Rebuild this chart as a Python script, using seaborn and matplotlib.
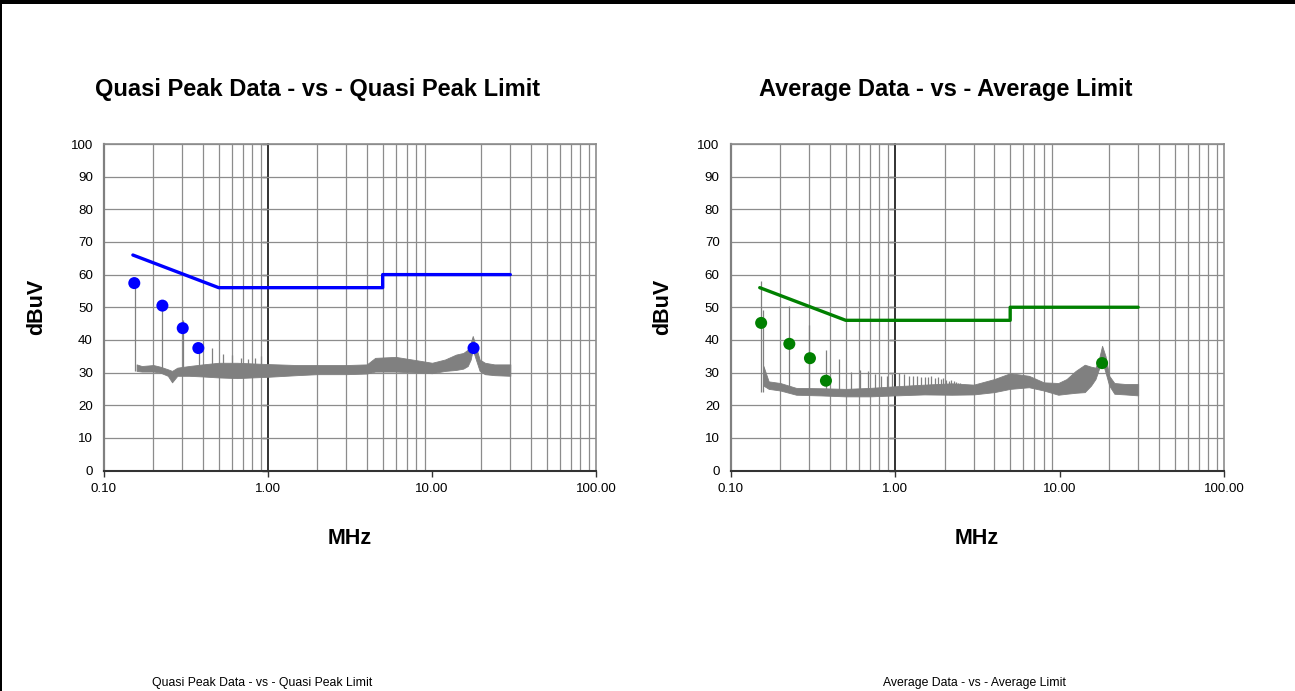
import matplotlib
matplotlib.use("Agg")
import matplotlib.pyplot as plt
from matplotlib.ticker import FixedLocator, FixedFormatter, NullFormatter
from matplotlib.patches import Rectangle
import seaborn as sns

sns.set_style("white")
plt.rcParams["font.family"] = ["Liberation Sans", "DejaVu Sans"]
plt.rcParams["text.color"] = "black"
plt.rcParams["xtick.labelcolor"] = "black"
plt.rcParams["ytick.labelcolor"] = "black"

# ---- limit lines (MHz, dBuV) ----
qp_limit_f = [0.15, 0.5, 5.0, 5.0, 30.0]
qp_limit_db = [66, 56, 56, 60, 60]
av_limit_f = [0.15, 0.5, 5.0, 5.0, 30.0]
av_limit_db = [56, 46, 46, 50, 50]

# ---- final measurement points ----
qp_pts_f = [0.153, 0.227, 0.302, 0.376, 17.9]
qp_pts_db = [57.4, 50.5, 43.6, 37.5, 37.5]
av_pts_f = [0.153, 0.227, 0.303, 0.379, 18.1]
av_pts_db = [45.2, 38.8, 34.4, 27.5, 32.9]

# ---- pre-scan sweep, quasi-peak detector: noise band + spurs ----
qp_band_f = [0.158, 0.17, 0.20, 0.22, 0.245, 0.26, 0.28, 0.33, 0.40, 0.50, 0.65,
             0.80, 1.0, 1.5, 2.0, 3.0, 4.0, 4.5, 6.0, 8.0, 10.0, 12.0, 14.0,
             15.5, 16.5, 17.2, 17.7, 18.5, 19.5, 21.0, 24.0, 30.0]
qp_band_lo = [30.5, 30.3, 30.3, 30.0, 29.0, 27.0, 29.0, 29.0, 28.8, 28.5, 28.3,
              28.5, 28.7, 29.2, 29.5, 29.5, 29.7, 30.3, 30.3, 30.0, 29.8, 30.5,
              30.8, 31.2, 32.0, 34.0, 37.0, 34.0, 30.5, 29.5, 29.2, 29.0]
qp_band_hi = [32.5, 32.0, 32.3, 31.8, 31.0, 30.5, 31.5, 32.0, 32.5, 33.0, 33.0,
              32.8, 32.6, 32.3, 32.3, 32.3, 32.5, 34.5, 34.8, 33.8, 33.0, 34.0,
              35.5, 36.0, 37.0, 39.0, 41.2, 38.0, 34.0, 33.0, 32.5, 32.5]
qp_spur_f = [0.155, 0.227, 0.302, 0.378, 0.455, 0.53, 0.605, 0.68, 0.76, 0.83, 0.91]
qp_spur_db = [57.2, 50.4, 46.2, 38.5, 37.5, 35.7, 35.5, 34.5, 34.0, 34.5, 35.0]
qp_spur_base = 30.5

# ---- pre-scan sweep, average detector: noise band + spurs ----
av_band_f = [0.158, 0.17, 0.20, 0.25, 0.35, 0.50, 0.70, 1.0, 1.5, 2.2, 3.0, 4.0,
             5.0, 6.5, 8.0, 9.8, 11.0, 12.5, 14.2, 15.5, 16.5, 17.3, 18.1, 19.0,
             20.0, 21.5, 25.0, 30.0]
av_band_lo = [26.0, 25.0, 24.5, 23.2, 23.0, 22.7, 22.7, 23.0, 23.3, 23.2, 23.3,
              24.0, 25.0, 25.5, 24.5, 23.2, 23.5, 23.8, 24.0, 26.0, 28.0, 31.0,
              33.5, 30.0, 26.0, 23.5, 23.3, 23.0]
av_band_hi = [32.0, 27.3, 26.8, 25.3, 25.2, 25.0, 25.3, 25.8, 26.3, 26.7, 26.3,
              28.0, 29.8, 29.0, 27.0, 26.8, 28.0, 30.5, 32.4, 31.8, 31.5, 34.0,
              38.2, 35.0, 29.0, 26.8, 26.5, 26.5]
av_spur_f = [0.153, 0.157, 0.227, 0.30, 0.377, 0.458, 0.537, 0.609, 0.685, 0.752,
             0.819, 0.89, 0.96, 1.05, 1.13, 1.21, 1.28, 1.36, 1.43, 1.51, 1.59,
             1.66, 1.74, 1.81, 1.89, 1.96, 2.04, 2.11, 2.19, 2.27, 2.34, 2.42, 2.49]
av_spur_db = [57.9, 49.2, 50.5, 44.6, 37.0, 34.2, 30.1, 30.8, 30.6, 29.5, 29.0,
              29.0, 29.5, 30.0, 29.5, 29.0, 29.0, 28.8, 28.5, 28.7, 28.5, 28.8,
              28.3, 28.6, 28.0, 28.2, 27.8, 27.5, 27.6, 27.3, 27.0, 26.8, 26.8]
av_spur_base = 24.0

# axis ticks
x_major = [0.1, 1.0, 10.0, 100.0]
x_major_labels = ["0.10", "1.00", "10.00", "100.00"]
x_minor = [m * 10.0 ** e for e in (-1, 0, 1) for m in range(2, 10)]
y_ticks = list(range(0, 101, 10))

TRACE = "#808080"
GRID = "#8c8c8c"

fig = plt.figure(figsize=(12.95, 6.91), dpi=100)
fig.patch.set_facecolor("white")


def draw_panel(ax, band_f, band_lo, band_hi, spur_f, spur_db, spur_base,
               lim_f, lim_db, pts_f, pts_db, color):
    ax.set_xscale("log")
    ax.set_xlim(0.1, 100)
    ax.set_ylim(0, 100)
    ax.set_facecolor("white")

    ax.xaxis.set_major_locator(FixedLocator(x_major))
    ax.xaxis.set_major_formatter(FixedFormatter(x_major_labels))
    ax.xaxis.set_minor_locator(FixedLocator(x_minor))
    ax.xaxis.set_minor_formatter(NullFormatter())
    ax.yaxis.set_major_locator(FixedLocator(y_ticks))

    ax.grid(False)
    ax.grid(which="minor", axis="x", color=GRID, lw=0.9)
    ax.grid(which="major", axis="y", color=GRID, lw=0.9)
    ax.set_axisbelow(True)

    ax.tick_params(axis="x", which="major", direction="out", length=4,
                   width=1.0, color="#333333", labelsize=9.6, pad=5,
                   bottom=True, labelcolor="black")
    ax.tick_params(axis="x", which="minor", length=0)
    ax.tick_params(axis="y", length=0, labelsize=9.6, pad=8, labelcolor="black")

    for side in ("top", "right"):
        ax.spines[side].set_color(GRID)
        ax.spines[side].set_linewidth(1.2)
    ax.spines["left"].set_color("#808080")
    ax.spines["left"].set_linewidth(1.6)
    ax.spines["bottom"].set_color("#333333")
    ax.spines["bottom"].set_linewidth(1.5)

    # value axis crossing at 1 MHz
    sec = ax.secondary_yaxis(1.0 / 3.0)
    sec.set_yticks(y_ticks)
    sec.yaxis.set_major_formatter(NullFormatter())
    sec.tick_params(length=4, width=1.0, direction="out", color="#222222")
    for sp in sec.spines.values():
        sp.set_color("#222222")
        sp.set_linewidth(1.3)

    # sweep trace
    ax.fill_between(band_f, band_lo, band_hi, color=TRACE, lw=0.6, zorder=2)
    ax.vlines(spur_f, spur_base, spur_db, color=TRACE, lw=0.9, zorder=2)

    # limit line and final measurements
    sns.lineplot(x=lim_f, y=lim_db, ax=ax, color=color, lw=2.4, sort=False,
                 estimator=None, zorder=4)
    sns.scatterplot(x=pts_f, y=pts_db, ax=ax, color=color, s=75,
                    edgecolor="none", zorder=5)
    ax.set_xlabel("")
    ax.set_ylabel("")


ax1 = fig.add_axes([0.0803, 0.3191, 0.380, 0.4725])
ax2 = fig.add_axes([0.5643, 0.3191, 0.381, 0.4725])

draw_panel(ax1, qp_band_f, qp_band_lo, qp_band_hi, qp_spur_f, qp_spur_db,
           qp_spur_base, qp_limit_f, qp_limit_db, qp_pts_f, qp_pts_db, "#0000ff")
draw_panel(ax2, av_band_f, av_band_lo, av_band_hi, av_spur_f, av_spur_db,
           av_spur_base, av_limit_f, av_limit_db, av_pts_f, av_pts_db, "#008000")

# titles and axis labels
fig.text(0.2452, 0.8698, "Quasi Peak Data - vs - Quasi Peak Limit",
         ha="center", va="center", fontsize=17, fontweight="bold")
fig.text(0.7305, 0.8698, "Average Data - vs - Average Limit",
         ha="center", va="center", fontsize=17, fontweight="bold")
fig.text(0.2703, 0.2214, "MHz", ha="center", va="center", fontsize=15.5,
         fontweight="bold")
fig.text(0.7544, 0.2214, "MHz", ha="center", va="center", fontsize=15.5,
         fontweight="bold")
fig.text(0.0286, 0.5557, "dBuV", ha="center", va="center", fontsize=15.5,
         fontweight="bold", rotation=90)
fig.text(0.5120, 0.5557, "dBuV", ha="center", va="center", fontsize=15.5,
         fontweight="bold", rotation=90)

# captions
cap_font = ["Liberation Sans Narrow", "Liberation Sans", "DejaVu Sans"]
fig.text(0.2023, 0.0116, "Quasi Peak Data - vs - Quasi Peak Limit",
         ha="center", va="center", fontsize=8.8, family=cap_font)
fig.text(0.7525, 0.0116, "Average Data - vs - Average Limit",
         ha="center", va="center", fontsize=8.8, family=cap_font)

# page frame: heavy rule on top, thin rule on the left
fig.add_artist(Rectangle((0, 1 - 4 / 691), 1, 4 / 691, transform=fig.transFigure,
                         facecolor="black", edgecolor="none"))
fig.add_artist(Rectangle((0, 0), 2 / 1295, 1, transform=fig.transFigure,
                         facecolor="black", edgecolor="none"))

fig.savefig("out.png", dpi=100, facecolor="white")
